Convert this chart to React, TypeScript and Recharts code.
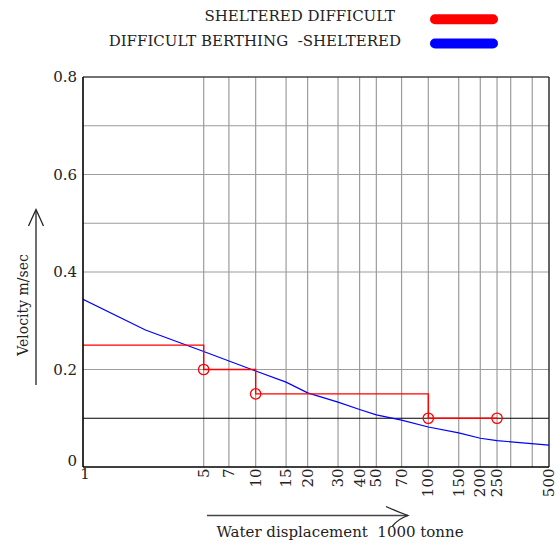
import React from 'react';
import { LineChart, Line, XAxis, YAxis, ReferenceLine } from 'recharts';

const seriesNames = ['SHELTERED DIFFICULT', 'DIFFICULT BERTHING  -SHELTERED'];
const seriesColors = ['#ff0000', '#0000ff'];

const redX = [1, 5, 10, 100, 250];
const redY = [0.25, 0.2, 0.15, 0.1, 0.1];

const blueX = [1, 2.3, 5, 10, 15, 20, 30, 40, 50, 70, 100, 150, 200, 250, 500];
const blueY = [0.344, 0.281, 0.237, 0.197, 0.174, 0.152, 0.133, 0.118, 0.107, 0.096, 0.082, 0.07, 0.059, 0.054, 0.045];

const xTicks = [1, 5, 7, 10, 15, 20, 30, 40, 50, 70, 100, 150, 200, 250, 500];
const xGrid = [5, 7, 10, 15, 20, 30, 40, 50, 70, 100, 150, 200, 250, 300, 400];
const yTicks = [0, 0.2, 0.4, 0.6, 0.8];
const yGrid = [0.2, 0.4, 0.5, 0.6, 0.7];
const yBlack = [0.1];

const xTitle = 'Water displacement  1000 tonne';
const yTitle = 'Velocity m/sec';

const redData = redX.map((x, i) => ({ x, v: redY[i] }));
const blueData = blueX.map((x, i) => ({ x, v: blueY[i] }));

const FONT = '"DejaVu Serif", serif';
const GRID = '#9c9c9c';

const XTick = (props: any) => {
  const { x, y, payload } = props;
  const v = payload.value;
  if (v === 1) {
    return (
      <text x={x + 2} y={y + 11.5} textAnchor="middle" fontSize={15} fontFamily={FONT} fill="#222">
        {String(v)}
      </text>
    );
  }
  return (
    <text
      transform={`translate(${x},${y + 1.5}) rotate(-90)`}
      textAnchor="end"
      dominantBaseline="central"
      fontSize={15}
      fontFamily={FONT}
      fill="#222"
    >
      {String(v)}
    </text>
  );
};

const YTick = (props: any) => {
  const { x, y, payload } = props;
  const v = payload.value;
  return (
    <text
      x={x - 6}
      y={y + (v === 0 ? -6 : 0)}
      textAnchor="end"
      dominantBaseline="central"
      fontSize={15}
      fontFamily={FONT}
      fill="#222"
    >
      {String(v)}
    </text>
  );
};

const RedDot = (props: any) => {
  const { cx, cy, index } = props;
  if (index === 0) return <g key={`rd-${index}`} />;
  return <circle key={`rd-${index}`} cx={cx} cy={cy} r={5.2} fill="none" stroke={seriesColors[0]} strokeWidth={1.3} />;
};

export default function App() {
  return (
    <div style={{ position: 'absolute', left: 0, top: 0, width: 560, height: 546, background: '#fff' }}>
      <LineChart
        width={560}
        height={546}
        margin={{ top: 77, right: 11, bottom: 0, left: 0 }}
        style={{ position: 'absolute', left: 0, top: 0 }}
      >
        <XAxis
          type="number"
          dataKey="x"
          scale="log"
          domain={[1, 500]}
          ticks={xTicks}
          allowDataOverflow
          interval={0}
          height={79}
          tickSize={0}
          tickMargin={0}
          tickLine={false}
          axisLine={{ stroke: '#000', strokeWidth: 1.6 }}
          tick={<XTick />}
        />
        <YAxis
          type="number"
          domain={[0, 0.8]}
          ticks={yTicks}
          width={83}
          tickSize={0}
          tickMargin={0}
          tickLine={false}
          axisLine={{ stroke: '#000', strokeWidth: 1.6 }}
          tick={<YTick />}
        />
        {xGrid.map((g) => (
          <ReferenceLine key={`vx-${g}`} x={g} stroke={GRID} strokeWidth={1.2} />
        ))}
        {yGrid.map((g) => (
          <ReferenceLine key={`hy-${g}`} y={g} stroke={GRID} strokeWidth={1.2} />
        ))}
        {yBlack.map((g) => (
          <ReferenceLine key={`hb-${g}`} y={g} stroke="#000" strokeWidth={1.2} />
        ))}
        <ReferenceLine y={0.8} stroke="#444" strokeWidth={1.4} />
        <ReferenceLine x={500} stroke="#222" strokeWidth={1.4} />
        <Line
          data={blueData}
          dataKey="v"
          type="linear"
          stroke={seriesColors[1]}
          strokeWidth={1.2}
          dot={false}
          isAnimationActive={false}
        />
        <Line
          data={redData}
          dataKey="v"
          type="stepAfter"
          stroke={seriesColors[0]}
          strokeWidth={1.4}
          dot={<RedDot />}
          isAnimationActive={false}
        />
      </LineChart>
      <svg
        width={560}
        height={546}
        style={{ position: 'absolute', left: 0, top: 0, pointerEvents: 'none' }}
      >
        {seriesNames.map((n, i) => (
          <g key={n}>
            <text
              x={i === 0 ? 395 : 401}
              y={i === 0 ? 20.7 : 46}
              textAnchor="end"
              fontSize={15}
              fontFamily={FONT}
              fill="#222"
              style={{ whiteSpace: 'pre' }}
            >
              {n}
            </text>
            <line
              x1={435}
              x2={493}
              y1={i === 0 ? 19.3 : 43.5}
              y2={i === 0 ? 19.3 : 43.5}
              stroke={seriesColors[i]}
              strokeWidth={10}
              strokeLinecap="round"
            />
          </g>
        ))}
        <text
          transform="translate(23,305) rotate(-90)"
          textAnchor="middle"
          dominantBaseline="central"
          fontSize={14}
          fontFamily={FONT}
          fill="#222"
        >
          {yTitle}
        </text>
        <line x1={36} y1={385} x2={36} y2={210} stroke="#222" strokeWidth={1.3} />
        <path d="M28.5,226 Q33,216 36,209.5 Q39,216 43.5,226" fill="none" stroke="#222" strokeWidth={1.3} />
        <text
          x={340}
          y={537}
          textAnchor="middle"
          fontSize={15}
          fontFamily={FONT}
          fill="#222"
          style={{ whiteSpace: 'pre' }}
        >
          {xTitle}
        </text>
        <line x1={207} y1={515.5} x2={408} y2={515.5} stroke="#444" strokeWidth={1.3} />
        <path d="M386,506.5 Q398,512 408,515.5 Q398,519 392.5,526" fill="none" stroke="#222" strokeWidth={1.3} />
      </svg>
    </div>
  );
}
